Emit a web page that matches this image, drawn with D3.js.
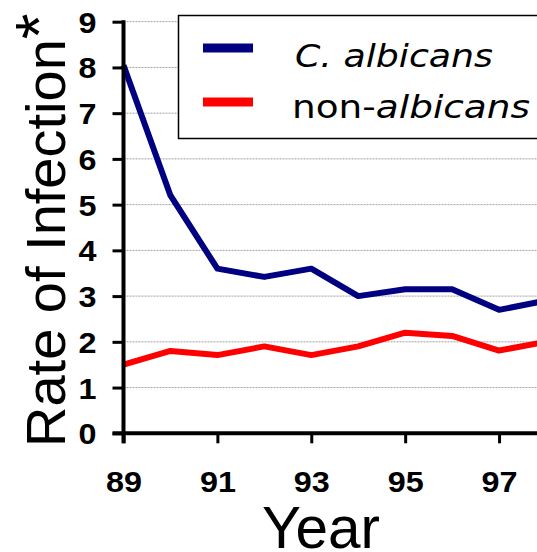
<!DOCTYPE html>
<html>
<head>
<meta charset="utf-8">
<script src="https://cdn.jsdelivr.net/npm/d3@7"></script>
<style>
  html, body { margin: 0; padding: 0; background: #fff; }
  svg { display: block; }
</style>
</head>
<body>
<svg id="chart" width="537" height="552"></svg>
<script>
// Yearly infection rates (two-digit years)
const years = [89, 90, 91, 92, 93, 94, 95, 96, 97, 98];
const albicans = [8.05, 5.2, 3.6, 3.42, 3.6, 3.0, 3.15, 3.15, 2.7, 2.9];
const nonAlbicans = [1.5, 1.8, 1.71, 1.9, 1.71, 1.9, 2.2, 2.13, 1.81, 2.0];
const yTicks = [0, 1, 2, 3, 4, 5, 6, 7, 8, 9];
const xTicks = [89, 91, 93, 95, 97];
const seriesNames = ["C. albicans", "non-albicans"];
const seriesColors = ["#000080", "#ff0000"];

const svg = d3.select("#chart");
const W = 537, H = 552;

const x = d3.scaleLinear().domain([89, 98]).range([123.5, 546]);
const y = d3.scaleLinear().domain([0, 9]).range([433.3, 21.7]);

// horizontal gridlines
svg.append("g")
  .selectAll("line")
  .data(yTicks.filter(d => d > 0))
  .join("line")
  .attr("x1", x(89)).attr("x2", W)
  .attr("y1", d => y(d)).attr("y2", d => y(d))
  .attr("stroke", "#a0a0a0")
  .attr("stroke-width", 1)
  .attr("stroke-dasharray", "2,1");

// series lines
const line = d3.line().x((d, i) => x(years[i])).y(d => y(d));
[albicans, nonAlbicans].forEach((vals, k) => {
  svg.append("path")
    .datum(vals)
    .attr("d", line)
    .attr("fill", "none")
    .attr("stroke", seriesColors[k])
    .attr("stroke-width", 6)
    .attr("stroke-linejoin", "round");
});

// y axis
const yAxis = d3.axisLeft(y).tickValues(yTicks).tickSize(11).tickPadding(16).tickFormat(d3.format("d"));
const gy = svg.append("g").attr("transform", `translate(${x(89)},0)`).call(yAxis);
gy.select(".domain").remove();
gy.selectAll(".tick line").attr("stroke", "#000").attr("stroke-width", 3);
gy.selectAll(".tick text")
  .attr("font-family", "'Liberation Sans', Arial, sans-serif")
  .attr("font-weight", "bold")
  .attr("font-size", 29)
  .attr("fill", "#000")
  .attr("dy", "0.36em")
  .attr("textLength", 18)
  .attr("lengthAdjust", "spacingAndGlyphs");

// x axis
const xAxis = d3.axisBottom(x).tickValues(xTicks).tickSize(10).tickPadding(28).tickFormat(d3.format("d"));
const gx = svg.append("g").attr("transform", `translate(0,${y(0)})`).call(xAxis);
gx.select(".domain").remove();
gx.selectAll(".tick line").attr("stroke", "#000").attr("stroke-width", 3);
gx.selectAll(".tick text")
  .attr("font-family", "'Liberation Sans', Arial, sans-serif")
  .attr("font-weight", "bold")
  .attr("font-size", 29)
  .attr("fill", "#000")
  .attr("textLength", 36)
  .attr("lengthAdjust", "spacingAndGlyphs");

// axis lines
svg.append("line")
  .attr("x1", x(89)).attr("x2", x(89))
  .attr("y1", y(9) - 1.5).attr("y2", y(0) + 10)
  .attr("stroke", "#000").attr("stroke-width", 4);
svg.append("line")
  .attr("x1", x(89) - 11).attr("x2", W)
  .attr("y1", y(0)).attr("y2", y(0))
  .attr("stroke", "#000").attr("stroke-width", 4);

// legend
const lg = svg.append("g");
lg.append("rect")
  .attr("x", 178.5).attr("y", 15.5)
  .attr("width", 400).attr("height", 123)
  .attr("fill", "#fff")
  .attr("stroke", "#000").attr("stroke-width", 1.5);
const legendRows = [48, 102];
seriesNames.forEach((name, i) => {
  lg.append("line")
    .attr("x1", 203).attr("x2", 253)
    .attr("y1", legendRows[i]).attr("y2", legendRows[i])
    .attr("stroke", seriesColors[i]).attr("stroke-width", 9);
});
lg.append("text")
  .attr("x", 295).attr("y", 66.5)
  .attr("font-family", "'DejaVu Sans', Verdana, sans-serif")
  .attr("font-size", 32)
  .attr("font-style", "italic")
  .attr("textLength", 198)
  .attr("lengthAdjust", "spacingAndGlyphs")
  .text(seriesNames[0]);
const t2 = lg.append("text")
  .attr("x", 292).attr("y", 118.3)
  .attr("font-family", "'DejaVu Sans', Verdana, sans-serif")
  .attr("font-size", 32)
  .attr("textLength", 238)
  .attr("lengthAdjust", "spacingAndGlyphs");
t2.append("tspan").text("non-");
t2.append("tspan").attr("font-style", "italic").text("albicans");

// axis titles
const yt = svg.append("text")
  .attr("transform", "translate(65,447) rotate(-90)")
  .attr("font-family", "'Liberation Sans', Arial, sans-serif")
  .attr("font-size", 56)
  .attr("fill", "#000");
yt.append("tspan").text("Rate of Infection");
yt.append("tspan").attr("font-size", 66).attr("dy", -3).text("*");

svg.append("text")
  .attr("x", 321).attr("y", 548)
  .attr("text-anchor", "middle")
  .attr("font-family", "'Liberation Sans', Arial, sans-serif")
  .attr("font-size", 60)
  .attr("textLength", 118)
  .attr("lengthAdjust", "spacingAndGlyphs")
  .attr("fill", "#000")
  .text("Year");
</script>
</body>
</html>
